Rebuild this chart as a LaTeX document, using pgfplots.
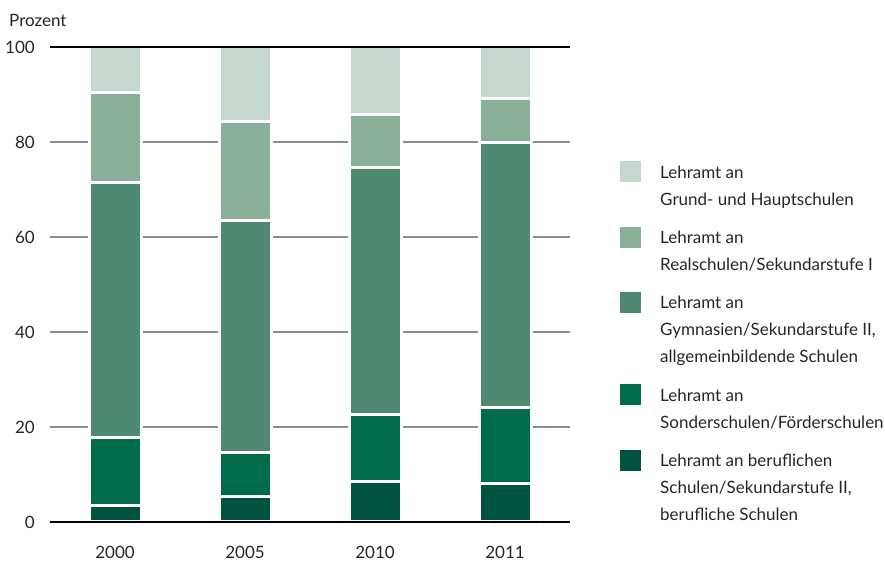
\documentclass[border=0pt]{standalone}
\usepackage{pgfplots}
\pgfplotsset{compat=1.18}
\usepackage{fontspec}
\setmainfont{Lato}
\definecolor{cGrund}{HTML}{C4D8CC}
\definecolor{cReal}{HTML}{8BB09A}
\definecolor{cGym}{HTML}{4F8A70}
\definecolor{cSonder}{HTML}{006C4C}
\definecolor{cBeruf}{HTML}{00533F}
\definecolor{gridgray}{HTML}{8C8C8C}
\definecolor{tgray}{HTML}{262626}
\pgfplotsset{
  twoline legend/.style={legend image code/.code={\fill[##1, draw=none] (0pt,4pt) rectangle (21pt,25pt);}},
  threeline legend/.style={legend image code/.code={\fill[##1, draw=none] (0pt,17pt) rectangle (21pt,38pt);}},
}
\begin{document}
\begin{tikzpicture}[x=1pt,y=1pt,font=\fontsize{17}{27}\selectfont]
\path (-50,-39) rectangle (835,522);
\begin{axis}[
  name=ax,
  at={(0,0)}, anchor=south west,
  scale only axis, width=520pt, height=475pt,
  ybar stacked, bar width=52pt,
  xmin=-0.5, xmax=3.5, ymin=0, ymax=100,
  xtick={0,1,2,3}, xticklabels={2000,2005,2010,2011},
  ytick={0,20,40,60,80,100},
  axis line style={draw=none},
  tick style={draw=none}, major tick length=0pt,
  ymajorgrids, grid style={color=gridgray, line width=2pt},
  /pgf/number format/assume math mode=true,
  yticklabel style={anchor=east, inner sep=0pt, xshift=-15pt, text=tgray},
  xticklabel style={anchor=north, inner sep=0pt, yshift=-24pt, text=tgray},
  every axis plot/.append style={draw=white, line width=3pt},
  reverse legend,
  legend cell align=left,
  legend style={at={(axis description cs:1,1)}, anchor=north west, xshift=50pt, yshift=-114pt,
    draw=none, fill=none, inner sep=0pt, row sep=20pt, column sep=19pt, text=tgray,
    nodes={inner sep=0pt, align=left}},
  clip=false,
]
\addplot[fill=cBeruf, threeline legend] coordinates {(0,3.5) (1,5.3) (2,8.5) (3,8.2)};
\addlegendentry{Lehramt an beruflichen\\Schulen/Sekundarstufe II,\\berufliche Schulen}
\addplot[fill=cSonder, twoline legend] coordinates {(0,14.3) (1,9.3) (2,14.2) (3,15.9)};
\addlegendentry{Lehramt an\\Sonderschulen/Förderschulen}
\addplot[fill=cGym, threeline legend] coordinates {(0,53.6) (1,48.8) (2,52.0) (3,55.7)};
\addlegendentry{Lehramt an\\Gymnasien/Sekundarstufe II,\\allgemeinbildende Schulen}
\addplot[fill=cReal, twoline legend] coordinates {(0,19.0) (1,20.9) (2,11.1) (3,9.4)};
\addlegendentry{Lehramt an\\Realschulen/Sekundarstufe I}
\addplot[fill=cGrund, twoline legend] coordinates {(0,9.6) (1,15.7) (2,14.2) (3,10.8)};
\addlegendentry{Lehramt an\\Grund- und Hauptschulen}
\node[anchor=base west, inner sep=0pt, text=tgray] at (rel axis cs:0,1) [xshift=-41pt, yshift=20pt] {Prozent};
\end{axis}
\draw[black, line width=2.5pt] (ax.south west) -- (ax.south east);
\draw[black, line width=2.5pt] (ax.north west) -- (ax.north east);
\end{tikzpicture}
\end{document}
